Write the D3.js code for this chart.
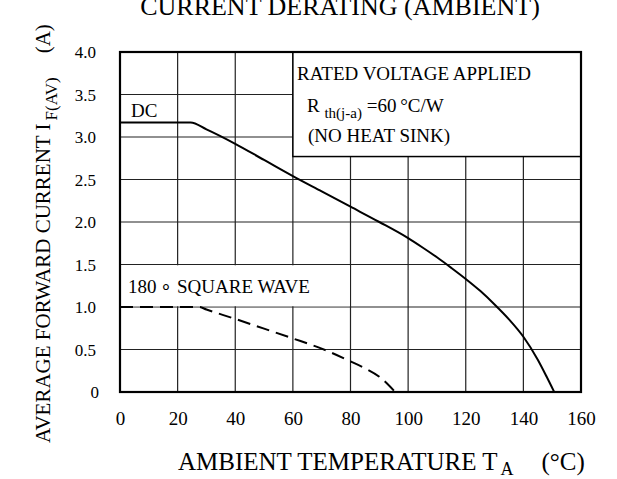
<!DOCTYPE html>
<html>
<head>
<meta charset="utf-8">
<script src="https://cdn.jsdelivr.net/npm/d3@7/dist/d3.min.js"></script>
<style>
  html, body { margin: 0; padding: 0; background: #fff; }
  svg { display: block; }
  text { font-family: "Liberation Serif", "Times New Roman", serif; fill: #000; }
</style>
</head>
<body>
<svg id="chart" width="617" height="479"></svg>
<script>
// ---- data ----
const xTicks = [0, 20, 40, 60, 80, 100, 120, 140, 160];
const yTicks = [0, 0.5, 1.0, 1.5, 2.0, 2.5, 3.0, 3.5, 4.0];
const yTickLabels = ["0", "0.5", "1.0", "1.5", "2.0", "2.5", "3.0", "3.5", "4.0"];

const dcTemp  = [0, 24.5, 30, 40, 50, 60, 70, 80, 90, 100, 105, 110, 115, 120, 125, 130, 135, 140, 145, 148, 150.7];
const dcValue = [3.17, 3.17, 3.09, 2.92, 2.73, 2.54, 2.36, 2.18, 2.0, 1.81, 1.70, 1.585, 1.46, 1.33, 1.19, 1.03, 0.855, 0.65, 0.38, 0.185, 0];

const sqTemp  = [0, 27.5, 30, 40, 50, 60, 70, 80, 85, 90, 95.5];
const sqValue = [1.0, 1.0, 0.97, 0.86, 0.745, 0.63, 0.51, 0.36, 0.28, 0.18, 0];

// ---- layout ----
const svg = d3.select("#chart");
const X0 = 120, X1 = 581, Y0 = 392, Y1 = 52;
const x = d3.scaleLinear().domain([0, 160]).range([X0, X1]);
const y = d3.scaleLinear().domain([0, 4]).range([Y0, Y1]);

// grid
const grid = svg.append("g").attr("stroke", "#222").attr("stroke-width", 1.2);
grid.selectAll("line.v").data(xTicks.slice(1, -1)).join("line")
  .attr("x1", d => x(d)).attr("x2", d => x(d))
  .attr("y1", Y0).attr("y2", Y1);
grid.selectAll("line.h").data(yTicks.slice(1, -1)).join("line")
  .attr("x1", X0).attr("x2", X1)
  .attr("y1", d => y(d)).attr("y2", d => y(d));

// white label boxes hiding the grid
svg.append("rect")
  .attr("x", x(60)).attr("y", y(4))
  .attr("width", x(160) - x(60)).attr("height", y(2.77) - y(4))
  .attr("fill", "#fff").attr("stroke", "#000").attr("stroke-width", 1.5);
svg.append("rect")
  .attr("x", x(0) + 1).attr("y", y(1.5) + 0.8)
  .attr("width", x(80) - x(0) - 1.6).attr("height", y(1.0) - y(1.5) - 1.6)
  .attr("fill", "#fff");

// frame
svg.append("rect")
  .attr("x", X0).attr("y", Y1).attr("width", X1 - X0).attr("height", Y0 - Y1)
  .attr("fill", "none").attr("stroke", "#000").attr("stroke-width", 2.2);

// curves
const line = d3.line().x(d => x(d[0])).y(d => y(d[1])).curve(d3.curveMonotoneX);
svg.append("path")
  .datum(d3.zip(dcTemp, dcValue))
  .attr("d", line)
  .attr("fill", "none").attr("stroke", "#000").attr("stroke-width", 2);
svg.append("path")
  .datum(d3.zip(sqTemp, sqValue))
  .attr("d", line)
  .attr("fill", "none").attr("stroke", "#000").attr("stroke-width", 2)
  .attr("stroke-dasharray", "13,7");

// axes (labels only)
const xAxis = d3.axisBottom(x).tickValues(xTicks).tickSize(0).tickPadding(0).tickFormat(d3.format("d"));
const gx = svg.append("g").attr("transform", `translate(0,${Y0})`).call(xAxis);
gx.select(".domain").remove();
gx.selectAll("text").attr("font-size", 19).attr("dy", null).attr("y", 33)
  .attr("font-family", "Liberation Serif");

const yAxis = d3.axisLeft(y).tickValues(yTicks).tickSize(0).tickPadding(0)
  .tickFormat((d, i) => yTickLabels[i]);
const gy = svg.append("g").call(yAxis);
gy.select(".domain").remove();
gy.selectAll("text").attr("font-size", 17).attr("font-family", "Liberation Serif")
  .attr("x", d => d === 0 ? 99 : 96).attr("dy", "0.34em");

// title
svg.append("text").attr("x", 340).attr("y", 15).attr("text-anchor", "middle")
  .attr("font-size", 26).text("CURRENT DERATING (AMBIENT)");

// annotations
svg.append("text").attr("x", 297).attr("y", 80).attr("font-size", 19).text("RATED VOLTAGE APPLIED");
const rt = svg.append("text").attr("x", 307).attr("y", 112).attr("font-size", 19);
rt.append("tspan").text("R ");
rt.append("tspan").attr("font-size", 15).attr("dy", 6).text("th(j-a)");
rt.append("tspan").attr("dy", -6).text(" =60\u2009\u00B0C/W");
svg.append("text").attr("x", 308).attr("y", 142).attr("font-size", 19).text("(NO HEAT SINK)");
svg.append("text").attr("x", 131).attr("y", 117).attr("font-size", 19).text("DC");
svg.append("text").attr("x", 128).attr("y", 293).attr("font-size", 19).text("180\u2009\u2218 SQUARE WAVE");

// axis titles
const xt = svg.append("text").attr("x", 178).attr("y", 470).attr("font-size", 25);
xt.append("tspan").text("AMBIENT TEMPERATURE T");
xt.append("tspan").attr("font-size", 18).attr("dy", 5).attr("dx", 3).text("A");
xt.append("tspan").attr("dy", -5).attr("dx", 28).text("(\u00B0C)");

const yt = svg.append("text").attr("transform", "translate(50,443) rotate(-90)").attr("font-size", 21);
yt.append("tspan").text("AVERAGE FORWARD CURRENT I");
yt.append("tspan").attr("font-size", 17).attr("dy", 7).attr("dx", 3).text("F(AV)");
yt.append("tspan").attr("dy", -7).attr("dx", 24).text("(A)");
</script>
</body>
</html>
